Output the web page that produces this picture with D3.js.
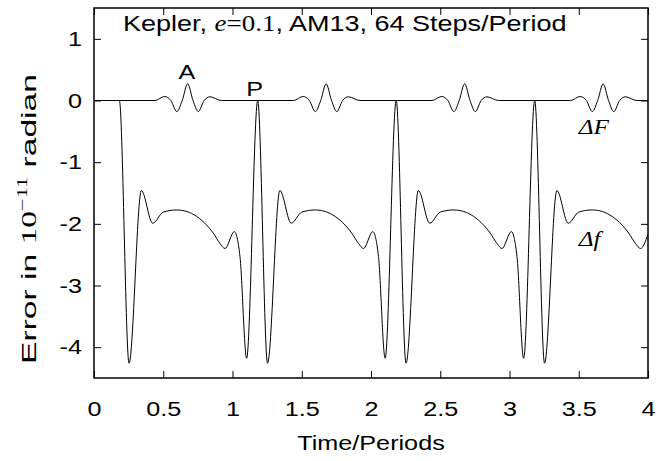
<!DOCTYPE html>
<html>
<head>
<meta charset="utf-8">
<script src="https://cdn.jsdelivr.net/npm/d3@7"></script>
<style>
  body { margin: 0; background: #fff; }
  svg { display: block; }
  .axis text { font-family: "Liberation Sans", Arial, sans-serif; font-size: 21px; fill: #000; }
  .axis line { stroke: #000; stroke-width: 1; }
  .axis path { display: none; }
</style>
</head>
<body>
<div id="chart"></div>
<script>
// tick values and labels
const xTicks = [0, 0.5, 1, 1.5, 2, 2.5, 3, 3.5, 4];
const xTickLabels = ['0', '0.5', '1', '1.5', '2', '2.5', '3', '3.5', '4'];
const yTicks = [-4, -3, -2, -1, 0, 1];
const yTickLabels = ['-4', '-3', '-2', '-1', '0', '1'];

// Δf : error in mean anomaly
const dfTime = [
  0, 0.183, 0.253, 0.342, 0.424, 0.50, 0.597, 0.67, 0.741, 0.813, 0.861, 0.91, 0.946,
  1.013, 1.054, 1.102, 1.182, 1.253, 1.342, 1.424, 1.50, 1.597, 1.67, 1.741, 1.813, 1.861, 1.91, 1.946,
  2.013, 2.054, 2.102, 2.182, 2.253, 2.342, 2.424, 2.50, 2.597, 2.67, 2.741, 2.813, 2.861, 2.91, 2.946,
  3.013, 3.054, 3.102, 3.182, 3.253, 3.342, 3.424, 3.50, 3.597, 3.67, 3.741, 3.813, 3.861, 3.91, 3.946,
  4.0
];
const dfValue = [
  0, 0, -4.26, -1.46, -1.99, -1.81, -1.775, -1.80, -1.88, -2.02, -2.15, -2.32, -2.40,
  -2.126, -2.53, -4.18, 0, -4.26, -1.46, -1.99, -1.81, -1.775, -1.80, -1.88, -2.02, -2.15, -2.32, -2.40,
  -2.126, -2.53, -4.18, 0, -4.26, -1.46, -1.99, -1.81, -1.775, -1.80, -1.88, -2.02, -2.15, -2.32, -2.40,
  -2.126, -2.53, -4.18, 0, -4.26, -1.46, -1.99, -1.81, -1.775, -1.80, -1.88, -2.02, -2.15, -2.32, -2.40,
  -2.17
];

// ΔF : error in eccentric anomaly
const bigFTime = [
  0, 0.44, 0.51, 0.555, 0.598, 0.637, 0.676, 0.715, 0.753, 0.795, 0.837, 0.92,
  1.44, 1.51, 1.555, 1.598, 1.637, 1.676, 1.715, 1.753, 1.795, 1.837, 1.92,
  2.44, 2.51, 2.555, 2.598, 2.637, 2.676, 2.715, 2.753, 2.795, 2.837, 2.92,
  3.44, 3.51, 3.555, 3.598, 3.637, 3.676, 3.715, 3.753, 3.795, 3.837, 3.92,
  4.0
];
const bigFValue = [
  0, 0, 0.065, 0, -0.18, 0, 0.27, 0, -0.18, 0, 0.06, 0,
  0, 0.065, 0, -0.18, 0, 0.27, 0, -0.18, 0, 0.06, 0,
  0, 0.065, 0, -0.18, 0, 0.27, 0, -0.18, 0, 0.06, 0,
  0, 0.065, 0, -0.18, 0, 0.27, 0, -0.18, 0, 0.06, 0,
  0
];

const config = {
  width: 668,
  height: 461,
  margin: { top: 8, right: 20, bottom: 83, left: 94 },
};
const plotW = config.width - config.margin.left - config.margin.right;
const plotH = config.height - config.margin.top - config.margin.bottom;
const stretch = 1.2; // glyphs in the picture are a bit wide

const svg = d3.select('#chart').append('svg')
    .attr('width', config.width)
    .attr('height', config.height);

const chart = svg.append('g')
    .attr('transform', `translate(${config.margin.left},${config.margin.top})`);

const xScale = d3.scaleLinear().domain([0, 4]).range([0, plotW]);
const yScale = d3.scaleLinear().domain([-4.5, 1.5]).range([plotH, 0]);

// axes, ticks point inwards
const xAxis = d3.axisBottom(xScale)
    .tickValues(xTicks)
    .tickFormat((d, i) => xTickLabels[i])
    .tickSizeInner(-7).tickSizeOuter(0).tickPadding(23);
const yAxis = d3.axisLeft(yScale)
    .tickValues(yTicks)
    .tickFormat((d, i) => yTickLabels[i])
    .tickSizeInner(-7).tickSizeOuter(0).tickPadding(10);
const xAxisTop = d3.axisTop(xScale)
    .tickValues(xTicks).tickFormat('')
    .tickSizeInner(-7).tickSizeOuter(0);
const yAxisRight = d3.axisRight(yScale)
    .tickValues(yTicks).tickFormat('')
    .tickSizeInner(-7).tickSizeOuter(0);

chart.append('g').attr('class', 'axis')
    .attr('transform', `translate(0,${plotH})`).call(xAxis);
chart.append('g').attr('class', 'axis').call(yAxis);
chart.append('g').attr('class', 'axis').call(xAxisTop);
chart.append('g').attr('class', 'axis')
    .attr('transform', `translate(${plotW},0)`).call(yAxisRight);

chart.selectAll('.axis text').attr('transform', `scale(${stretch},1)`);

// curves
const dfData = dfTime.map((t, i) => ({ t: t, v: dfValue[i] }));
const bigFData = bigFTime.map((t, i) => ({ t: t, v: bigFValue[i] }));

const lineFunc = d3.line()
    .x(d => xScale(d.t))
    .y(d => yScale(d.v))
    .curve(d3.curveMonotoneX);

chart.selectAll('.chart-line')
    .data([bigFData, dfData])
  .join('path')
    .attr('class', 'chart-line')
    .attr('fill', 'none')
    .attr('stroke', '#000')
    .attr('stroke-width', 1)
    .attr('d', lineFunc);

// frame
chart.append('rect')
    .attr('width', plotW)
    .attr('height', plotH)
    .attr('fill', 'none')
    .attr('stroke', '#000')
    .attr('stroke-width', 1.5);

const sans = '"Liberation Sans", Arial, sans-serif';
const serif = '"Liberation Serif", "Times New Roman", serif';

// title
const title = svg.append('text')
    .attr('transform', `translate(123,31) scale(${stretch},1)`)
    .attr('font-family', sans).attr('font-size', 22.5);
title.append('tspan').text('Kepler, ');
title.append('tspan').attr('font-family', serif).attr('font-style', 'italic').text('e');
title.append('tspan').attr('font-family', serif).text('=0.1');
title.append('tspan').text(', AM13, 64 Steps/Period');

// point labels
svg.append('text')
    .attr('transform', `translate(${config.margin.left + xScale(0.67)},79) scale(${stretch},1)`)
    .attr('text-anchor', 'middle')
    .attr('font-family', sans).attr('font-size', 21)
    .text('A');
svg.append('text')
    .attr('transform', `translate(${config.margin.left + xScale(1.16)},96) scale(${stretch},1)`)
    .attr('text-anchor', 'middle')
    .attr('font-family', sans).attr('font-size', 21)
    .text('P');

// curve labels
svg.append('text')
    .attr('transform', `translate(${config.margin.left + xScale(3.5)},134) scale(${stretch},1)`)
    .attr('font-family', serif).attr('font-style', 'italic').attr('font-size', 21)
    .text('ΔF');
svg.append('text')
    .attr('transform', `translate(${config.margin.left + xScale(3.5)},246) scale(${stretch},1)`)
    .attr('font-family', serif).attr('font-style', 'italic').attr('font-size', 21)
    .text('Δf');

// axis titles
svg.append('text')
    .attr('transform', `translate(${config.margin.left + plotW / 2},450) scale(${stretch},1)`)
    .attr('text-anchor', 'middle')
    .attr('font-family', sans).attr('font-size', 21)
    .text('Time/Periods');

const yTitle = svg.append('text')
    .attr('text-anchor', 'middle')
    .attr('font-family', sans).attr('font-size', 21);
yTitle.append('tspan').text('Error in ');
yTitle.append('tspan').attr('font-family', serif).text('10');
yTitle.append('tspan').attr('font-family', serif).attr('font-size', 14)
    .attr('dy', -9).text('−11');
yTitle.append('tspan').attr('dy', 9).text(' radian');
const yLen = yTitle.node().getComputedTextLength();
yTitle.attr('transform', `translate(36,219) rotate(-90) scale(${290 / yLen},1)`);
</script>
</body>
</html>
